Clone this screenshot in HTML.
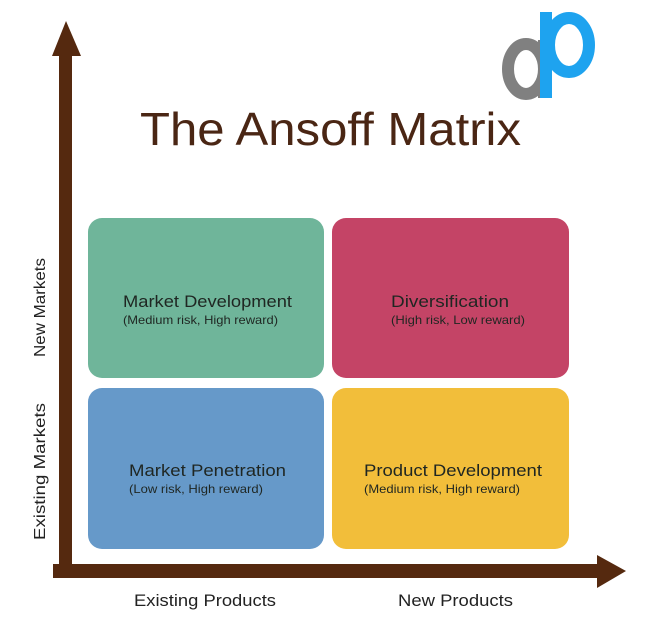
<!DOCTYPE html>
<html><head><style>
html,body{margin:0;padding:0;background:#fff;width:666px;height:638px;overflow:hidden}
svg{display:block}
text{font-family:"Liberation Sans",sans-serif}
</style></head><body>
<svg width="666" height="638" viewBox="0 0 666 638" xmlns="http://www.w3.org/2000/svg">
<rect width="666" height="638" fill="#fff"/>
<!-- logo -->
<ellipse cx="526" cy="69" rx="18" ry="25" fill="none" stroke="#808080" stroke-width="12"/>
<rect x="538" y="40" width="12" height="58" fill="#808080"/>
<ellipse cx="569" cy="45" rx="20" ry="27" fill="none" stroke="#1ea3ef" stroke-width="12"/>
<rect x="540" y="12" width="12" height="86" fill="#1ea3ef"/>
<!-- title -->
<text x="140" y="145" font-size="46" fill="#4a2614" textLength="381" lengthAdjust="spacingAndGlyphs">The Ansoff Matrix</text>
<!-- boxes -->
<rect x="88" y="218" width="236" height="160" rx="14" fill="#6fb59a"/>
<rect x="332" y="218" width="237" height="160" rx="14" fill="#c44466"/>
<rect x="88" y="388" width="236" height="161" rx="14" fill="#6699c9"/>
<rect x="332" y="388" width="237" height="161" rx="14" fill="#f2be3a"/>
<g fill="#1f2622">
<text x="123" y="307" font-size="17" textLength="169" lengthAdjust="spacingAndGlyphs">Market Development</text>
<text x="123" y="324" font-size="12" textLength="155" lengthAdjust="spacingAndGlyphs">(Medium risk, High reward)</text>
<text x="391" y="307" font-size="17" textLength="118" lengthAdjust="spacingAndGlyphs">Diversification</text>
<text x="391" y="324" font-size="12" textLength="134" lengthAdjust="spacingAndGlyphs">(High risk, Low reward)</text>
<text x="129" y="476" font-size="17" textLength="157" lengthAdjust="spacingAndGlyphs">Market Penetration</text>
<text x="129" y="493" font-size="12" textLength="134" lengthAdjust="spacingAndGlyphs">(Low risk, High reward)</text>
<text x="364" y="476" font-size="17" textLength="178" lengthAdjust="spacingAndGlyphs">Product Development</text>
<text x="364" y="493" font-size="12" textLength="156" lengthAdjust="spacingAndGlyphs">(Medium risk, High reward)</text>
</g>
<!-- axes -->
<g fill="#55290f">
<rect x="59" y="50" width="13" height="528"/>
<polygon points="66,21 52,56 81,56"/>
<rect x="53" y="564" width="550" height="14"/>
<polygon points="626,571 597,555 597,588"/>
</g>
<g fill="#222">
<text x="134" y="606" font-size="17" textLength="142" lengthAdjust="spacingAndGlyphs">Existing Products</text>
<text x="398" y="606" font-size="17" textLength="115" lengthAdjust="spacingAndGlyphs">New Products</text>
<text transform="translate(45,357) rotate(-90)" font-size="16" textLength="99" lengthAdjust="spacingAndGlyphs">New Markets</text>
<text transform="translate(45,540) rotate(-90)" font-size="16" textLength="137" lengthAdjust="spacingAndGlyphs">Existing Markets</text>
</g>
</svg>
</body></html>
